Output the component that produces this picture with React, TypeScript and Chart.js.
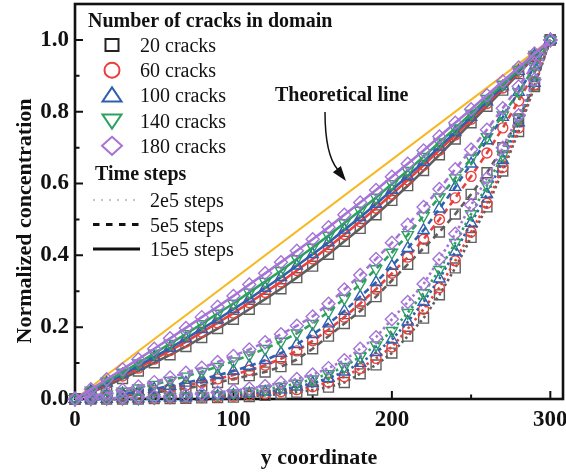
import React, { useEffect, useRef } from 'react';
import { Chart, registerables } from 'chart.js';

Chart.register(...registerables);

// ---------------- data ----------------
const xCoords = [0, 10, 20, 30, 40, 50, 60, 70, 80, 90, 100, 110, 120, 130, 140, 150, 160, 170, 180, 190, 200, 210, 220, 230, 240, 250, 260, 270, 280, 290, 300];
const crackLabels = ['20 cracks', '60 cracks', '100 cracks', '140 cracks', '180 cracks'];
const timeLabels = ['2e5 steps', '5e5 steps', '15e5 steps'];
const xTickValues = [0, 100, 200, 300];
const xMinorTicks = [50, 150, 250];
const yTickValues = [0, 0.2, 0.4, 0.6, 0.8, 1.0];
const yMinorTicks = [0.1, 0.3, 0.5, 0.7, 0.9];
const theoreticalX = [0, 300];
const theoreticalY = [0, 1];
const xAxisTitle = 'y coordinate';
const yAxisTitle = 'Normalized concentration';

// 2e5 steps (dotted)
const c20_2e5 = [0, 0, 0, 0, 0, 0.001, 0.001, 0.002, 0.003, 0.004, 0.005, 0.007, 0.01, 0.014, 0.019, 0.025, 0.033, 0.046, 0.07, 0.095, 0.128, 0.175, 0.225, 0.29, 0.365, 0.45, 0.535, 0.635, 0.745, 0.87, 1];
const c60_2e5 = [0, 0, 0, 0, 0.001, 0.001, 0.002, 0.003, 0.004, 0.006, 0.008, 0.011, 0.015, 0.02, 0.026, 0.034, 0.047, 0.062, 0.085, 0.113, 0.145, 0.195, 0.25, 0.31, 0.385, 0.465, 0.545, 0.645, 0.755, 0.875, 1];
const c100_2e5 = [0, 0, 0, 0.001, 0.001, 0.002, 0.003, 0.004, 0.006, 0.008, 0.011, 0.015, 0.02, 0.026, 0.034, 0.044, 0.058, 0.076, 0.1, 0.13, 0.165, 0.215, 0.27, 0.335, 0.41, 0.49, 0.57, 0.665, 0.77, 0.88, 1];
const c140_2e5 = [0, 0, 0.001, 0.001, 0.002, 0.003, 0.005, 0.007, 0.009, 0.012, 0.016, 0.021, 0.027, 0.034, 0.043, 0.055, 0.07, 0.09, 0.118, 0.15, 0.19, 0.24, 0.295, 0.36, 0.435, 0.515, 0.595, 0.68, 0.78, 0.885, 1];
const c180_2e5 = [0, 0.001, 0.002, 0.003, 0.004, 0.006, 0.008, 0.011, 0.014, 0.018, 0.023, 0.029, 0.036, 0.045, 0.056, 0.068, 0.086, 0.108, 0.14, 0.172, 0.222, 0.27, 0.32, 0.39, 0.46, 0.54, 0.615, 0.7, 0.79, 0.89, 1];

// 5e5 steps (dashed)
const c20_5e5 = [0, 0.002, 0.005, 0.009, 0.013, 0.018, 0.024, 0.03, 0.037, 0.046, 0.056, 0.065, 0.075, 0.09, 0.11, 0.14, 0.175, 0.21, 0.245, 0.285, 0.33, 0.375, 0.42, 0.465, 0.515, 0.57, 0.63, 0.7, 0.78, 0.875, 1];
const c60_5e5 = [0, 0.003, 0.007, 0.012, 0.017, 0.023, 0.03, 0.038, 0.046, 0.056, 0.067, 0.08, 0.094, 0.112, 0.134, 0.162, 0.193, 0.228, 0.266, 0.306, 0.35, 0.395, 0.445, 0.5, 0.56, 0.62, 0.685, 0.755, 0.83, 0.91, 1];
const c100_5e5 = [0, 0.004, 0.009, 0.015, 0.021, 0.028, 0.036, 0.045, 0.055, 0.066, 0.078, 0.092, 0.108, 0.128, 0.152, 0.18, 0.21, 0.245, 0.285, 0.325, 0.37, 0.42, 0.47, 0.53, 0.59, 0.655, 0.72, 0.785, 0.855, 0.925, 1];
const c140_5e5 = [0, 0.006, 0.013, 0.021, 0.03, 0.04, 0.051, 0.063, 0.076, 0.09, 0.105, 0.122, 0.14, 0.16, 0.183, 0.21, 0.243, 0.28, 0.32, 0.362, 0.408, 0.457, 0.51, 0.562, 0.615, 0.67, 0.73, 0.79, 0.855, 0.925, 1];
const c180_5e5 = [0, 0.008, 0.016, 0.025, 0.035, 0.047, 0.06, 0.073, 0.087, 0.103, 0.12, 0.138, 0.158, 0.18, 0.204, 0.23, 0.265, 0.305, 0.345, 0.39, 0.435, 0.485, 0.535, 0.585, 0.64, 0.695, 0.75, 0.81, 0.87, 0.935, 1];

// 15e5 steps (solid)
const c20_15e5 = [0, 0.018, 0.037, 0.057, 0.078, 0.101, 0.123, 0.146, 0.171, 0.196, 0.222, 0.25, 0.278, 0.307, 0.338, 0.37, 0.403, 0.439, 0.475, 0.513, 0.553, 0.594, 0.636, 0.68, 0.724, 0.769, 0.815, 0.86, 0.906, 0.953, 1];
const c60_15e5 = [0, 0.02, 0.042, 0.064, 0.086, 0.111, 0.135, 0.159, 0.186, 0.212, 0.239, 0.268, 0.297, 0.326, 0.358, 0.39, 0.423, 0.458, 0.494, 0.531, 0.57, 0.61, 0.651, 0.693, 0.735, 0.779, 0.823, 0.866, 0.91, 0.955, 1];
const c100_15e5 = [0, 0.022, 0.045, 0.068, 0.092, 0.117, 0.142, 0.168, 0.195, 0.222, 0.25, 0.279, 0.309, 0.339, 0.371, 0.403, 0.436, 0.471, 0.506, 0.543, 0.582, 0.621, 0.66, 0.702, 0.743, 0.785, 0.828, 0.87, 0.913, 0.957, 1];
const c140_15e5 = [0, 0.024, 0.049, 0.074, 0.1, 0.127, 0.154, 0.181, 0.209, 0.238, 0.266, 0.297, 0.327, 0.357, 0.39, 0.422, 0.455, 0.49, 0.525, 0.561, 0.599, 0.636, 0.675, 0.715, 0.754, 0.795, 0.836, 0.876, 0.917, 0.959, 1];
const c180_15e5 = [0, 0.027, 0.055, 0.083, 0.111, 0.14, 0.169, 0.198, 0.228, 0.257, 0.287, 0.319, 0.35, 0.381, 0.413, 0.445, 0.478, 0.513, 0.547, 0.582, 0.619, 0.655, 0.692, 0.731, 0.769, 0.807, 0.846, 0.885, 0.923, 0.962, 1];

const seriesByTime = [
  [c20_2e5, c60_2e5, c100_2e5, c140_2e5, c180_2e5],
  [c20_5e5, c60_5e5, c100_5e5, c140_5e5, c180_5e5],
  [c20_15e5, c60_15e5, c100_15e5, c140_15e5, c180_15e5],
];

// ---------------- styles ----------------
const FONT = '"Liberation Serif", "Times New Roman", serif';
const lineColors = ['#5e5e5e', '#e8403c', '#2f5faf', '#2ea060', '#a574d6'];
const legendMarkerColors = ['#222222', '#e8403c', '#2f5faf', '#2ea060', '#a574d6'];
const pointStyles = ['rect', 'circle', 'triangle', 'triangle', 'rectRot'];
const pointRotations = [0, 0, 0, 180, 0];
const pointRadii = [7, 5, 6.5, 6.5, 6.5];
const timeDashes = [[2.5, 3], [6, 4.5], []];
const theoColor = '#f5b820';

function buildDatasets() {
  const ds: any[] = [];
  for (let i = 4; i >= 0; i--) {
    for (let g = 2; g >= 0; g--) {
      const vals = seriesByTime[g][i];
      ds.push({
        label: crackLabels[i] + ' ' + timeLabels[g],
        data: xCoords.map((x, k) => ({ x, y: vals[k] })),
        borderColor: lineColors[i],
        borderWidth: 2.6,
        borderDash: timeDashes[g],
        borderCapStyle: 'butt',
        pointStyle: pointStyles[i],
        pointRotation: pointRotations[i],
        pointRadius: pointRadii[i],
        pointBorderColor: lineColors[i],
        pointBackgroundColor: 'rgba(0,0,0,0)',
        pointBorderWidth: 1.4,
        tension: 0,
        clip: false,
        fill: false,
      });
    }
  }
  ds.push({
    label: 'Theoretical line',
    data: theoreticalX.map((x, k) => ({ x, y: theoreticalY[k] })),
    borderColor: theoColor,
    borderWidth: 2,
    pointRadius: 0,
    tension: 0,
    clip: false,
    fill: false,
  });
  return ds;
}

function drawMarker(ctx: CanvasRenderingContext2D, kind: number, cx: number, cy: number, color: string) {
  ctx.save();
  ctx.strokeStyle = color;
  ctx.lineWidth = 2;
  ctx.setLineDash([]);
  ctx.beginPath();
  if (kind === 0) {
    ctx.rect(cx - 6.5, cy - 6, 13, 12);
  } else if (kind === 1) {
    ctx.arc(cx, cy, 7.5, 0, Math.PI * 2);
  } else if (kind === 2) {
    ctx.moveTo(cx, cy - 8);
    ctx.lineTo(cx + 9.5, cy + 6);
    ctx.lineTo(cx - 9.5, cy + 6);
    ctx.closePath();
  } else if (kind === 3) {
    ctx.moveTo(cx, cy + 8);
    ctx.lineTo(cx + 9.5, cy - 6);
    ctx.lineTo(cx - 9.5, cy - 6);
    ctx.closePath();
  } else {
    ctx.moveTo(cx, cy - 9);
    ctx.lineTo(cx + 10, cy);
    ctx.lineTo(cx, cy + 9);
    ctx.lineTo(cx - 10, cy);
    ctx.closePath();
  }
  ctx.stroke();
  ctx.restore();
}

const decorPlugin = {
  id: 'decor',
  beforeDatasetsDraw(chart: any) {
    const { ctx, chartArea: a, scales } = chart;
    const xs = scales.x;
    const ys = scales.y;
    ctx.save();
    ctx.strokeStyle = '#111';
    ctx.lineWidth = 2.6;
    ctx.strokeRect(a.left, a.top, a.right - a.left, a.bottom - a.top);
    ctx.lineWidth = 2;
    ctx.beginPath();
    xTickValues.forEach((v) => {
      if (v === 0) return;
      const px = xs.getPixelForValue(v);
      ctx.moveTo(px, a.bottom);
      ctx.lineTo(px, a.bottom - 8);
    });
    xMinorTicks.forEach((v) => {
      const px = xs.getPixelForValue(v);
      ctx.moveTo(px, a.bottom);
      ctx.lineTo(px, a.bottom - 4.5);
    });
    yTickValues.forEach((v) => {
      if (v === 0) return;
      const py = ys.getPixelForValue(v);
      ctx.moveTo(a.left, py);
      ctx.lineTo(a.left + 8, py);
    });
    yMinorTicks.forEach((v) => {
      const py = ys.getPixelForValue(v);
      ctx.moveTo(a.left, py);
      ctx.lineTo(a.left + 4.5, py);
    });
    ctx.stroke();
    // y axis title (rotated), positioned like the reference
    ctx.fillStyle = '#111';
    ctx.font = 'bold 22px ' + FONT;
    ctx.textAlign = 'center';
    ctx.textBaseline = 'middle';
    ctx.translate(25, 221);
    ctx.rotate(-Math.PI / 2);
    ctx.fillText(yAxisTitle, 0, 0);
    ctx.restore();
  },
  afterDraw(chart: any) {
    const ctx: CanvasRenderingContext2D = chart.ctx;
    ctx.save();
    ctx.fillStyle = '#111';
    ctx.textAlign = 'left';
    ctx.textBaseline = 'alphabetic';
    // legend section 1
    ctx.font = 'bold 20px ' + FONT;
    ctx.fillText('Number of cracks in domain', 88, 27);
    ctx.font = '20px ' + FONT;
    crackLabels.forEach((lab, i) => {
      const cy = 45 + i * 25.2;
      drawMarker(ctx, i, 112, cy, legendMarkerColors[i]);
      ctx.fillStyle = '#111';
      ctx.fillText(lab, 140, cy + 7);
    });
    // legend section 2
    ctx.font = 'bold 20px ' + FONT;
    ctx.fillText('Time steps', 95, 180);
    const sampleStyles = [
      { color: '#c4c4c4', width: 2, dash: [2, 6] },
      { color: '#111', width: 3, dash: [6.5, 6.5] },
      { color: '#111', width: 3, dash: [] as number[] },
    ];
    ctx.font = '20px ' + FONT;
    timeLabels.forEach((lab, i) => {
      const cy = 200 + i * 24.5;
      const st = sampleStyles[i];
      ctx.save();
      ctx.strokeStyle = st.color;
      ctx.lineWidth = st.width;
      ctx.setLineDash(st.dash);
      ctx.beginPath();
      ctx.moveTo(93, cy);
      ctx.lineTo(140, cy);
      ctx.stroke();
      ctx.restore();
      ctx.fillStyle = '#111';
      ctx.fillText(lab, 150, cy + 7);
    });
    // annotation
    ctx.font = 'bold 20px ' + FONT;
    ctx.fillText('Theoretical line', 275, 101);
    ctx.strokeStyle = '#111';
    ctx.lineWidth = 1.5;
    ctx.setLineDash([]);
    ctx.beginPath();
    ctx.moveTo(325, 112);
    ctx.quadraticCurveTo(325, 155, 338, 170);
    ctx.stroke();
    const tipX = 346, tipY = 181;
    const dx = tipX - 336, dy = tipY - 168;
    const len = Math.hypot(dx, dy);
    const ux = dx / len, uy = dy / len;
    const bx = tipX - ux * 15, by = tipY - uy * 15;
    ctx.beginPath();
    ctx.moveTo(tipX, tipY);
    ctx.lineTo(bx - uy * 5, by + ux * 5);
    ctx.lineTo(bx + uy * 5, by - ux * 5);
    ctx.closePath();
    ctx.fill();
    ctx.restore();
  },
};

function zeroPad(s: any) {
  s.paddingLeft = 0;
  s.paddingRight = 0;
  s.paddingTop = 0;
  s.paddingBottom = 0;
}

export default function App() {
  const ref = useRef<HTMLCanvasElement>(null);
  useEffect(() => {
    document.body.style.margin = '0';
    const tickFont = { family: FONT, size: 23, weight: 'bold' as const };
    const titleFont = { family: FONT, size: 22, weight: 'bold' as const };
    const chart = new Chart(ref.current as HTMLCanvasElement, {
      type: 'line',
      data: { datasets: buildDatasets() },
      options: {
        responsive: false,
        animation: false,
        devicePixelRatio: 1,
        events: [],
        layout: { autoPadding: false, padding: { left: 0, top: 4, right: 3, bottom: 0 } },
        plugins: { legend: { display: false }, tooltip: { enabled: false } },
        scales: {
          x: {
            type: 'linear',
            min: 0,
            max: 308,
            afterFit: (s: any) => { s.height = 74; zeroPad(s); },
            afterBuildTicks: (s: any) => { s.ticks = xTickValues.map((v) => ({ value: v })); },
            grid: { display: false, drawTicks: false },
            border: { display: false },
            ticks: { padding: 7, color: '#111', font: tickFont, maxRotation: 0, autoSkip: false, callback: (v: any) => String(v) },
            title: { display: true, text: xAxisTitle, color: '#111', font: titleFont, padding: { top: 0, bottom: 1 } },
          },
          y: {
            type: 'linear',
            min: 0,
            max: 1.1,
            afterFit: (s: any) => { s.width = 75; zeroPad(s); },
            afterBuildTicks: (s: any) => { s.ticks = yTickValues.map((v) => ({ value: v })); },
            grid: { display: false, drawTicks: false },
            border: { display: false },
            ticks: { padding: 6, color: '#111', font: tickFont, autoSkip: false, callback: (v: any) => Number(v).toFixed(1) },
            title: { display: false },
          },
        },
      },
      plugins: [decorPlugin],
    } as any);
    return () => chart.destroy();
  }, []);
  return (
    <div style={{ width: 566, height: 473 }}>
      <canvas ref={ref} width={566} height={473} style={{ display: 'block' }} />
    </div>
  );
}
